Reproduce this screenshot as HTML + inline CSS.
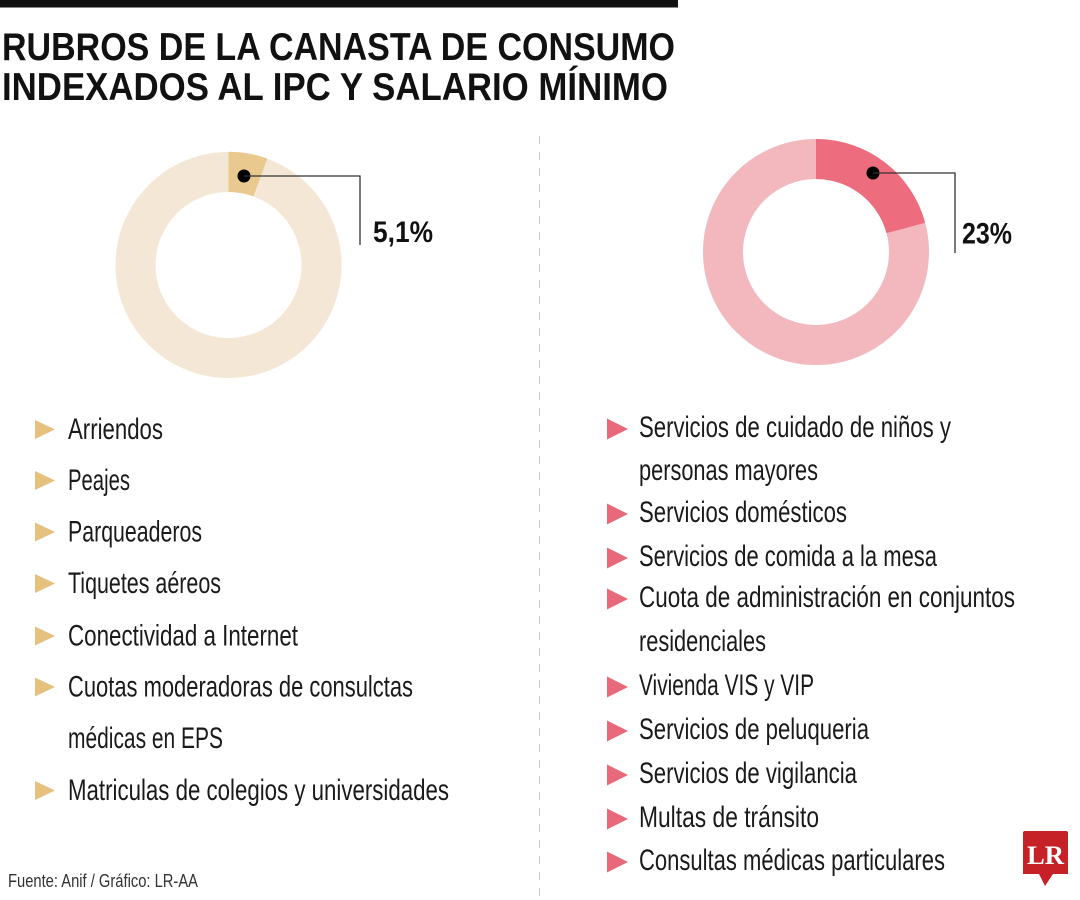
<!DOCTYPE html>
<html>
<head>
<meta charset="utf-8">
<style>
  html, body { margin: 0; padding: 0; background: #fff; }
  body { width: 1080px; height: 900px; overflow: hidden; }
  svg { display: block; }
  .t { font-family: "Liberation Sans Narrow", "Liberation Sans", sans-serif; }
</style>
</head>
<body>
<svg width="1080" height="900" viewBox="0 0 1080 900" xmlns="http://www.w3.org/2000/svg">
  <rect x="0" y="0" width="1080" height="900" fill="#ffffff"/>
  <!-- top bar -->
  <rect x="0" y="0" width="678" height="7.5" fill="#111"/>

  <!-- title -->
  <text class="t" x="2" y="60" font-size="39" font-weight="700" fill="#111" textLength="673" lengthAdjust="spacingAndGlyphs">RUBROS DE LA CANASTA DE CONSUMO</text>
  <text class="t" x="2" y="100" font-size="39" font-weight="700" fill="#111" textLength="666" lengthAdjust="spacingAndGlyphs">INDEXADOS AL IPC Y SALARIO MÍNIMO</text>

  <!-- divider -->
  <line x1="539.5" y1="136" x2="539.5" y2="900" stroke="#c8c8c8" stroke-width="1" stroke-dasharray="8 8"/>

  <!-- donut 1 -->
  <circle cx="228.5" cy="265" r="93" fill="none" stroke="#f4e7d5" stroke-width="40"/>
  <path d="M228.5 151.7 A113.3 113.3 0 0 1 267.25 158.53 L253.47 196.4 A73 73 0 0 0 228.5 192 Z" fill="#e9c98e"/>
  <circle cx="244" cy="176" r="6.5" fill="#000"/>
  <polyline points="244,176 360,176 360,245" fill="none" stroke="#333" stroke-width="1.3"/>
  <text class="t" x="373" y="242" font-size="30" font-weight="700" fill="#111" textLength="60" lengthAdjust="spacingAndGlyphs">5,1%</text>

  <!-- donut 2 -->
  <circle cx="816" cy="252" r="93" fill="none" stroke="#f2b8bd" stroke-width="40"/>
  <path d="M816 139 A113 113 0 0 1 925.15 222.75 L886.51 233.11 A73 73 0 0 0 816 179 Z" fill="#ed6c7e"/>
  <circle cx="873" cy="173" r="6.5" fill="#000"/>
  <polyline points="873,173 955,173 955,253" fill="none" stroke="#333" stroke-width="1.3"/>
  <text class="t" x="962" y="243.5" font-size="30" font-weight="700" fill="#111" textLength="50" lengthAdjust="spacingAndGlyphs">23%</text>

  <!-- left list -->
  <g fill="#e6c07d">
    <polygon points="35,420 55,429.5 35,439"/>
    <polygon points="35,471 55,480.5 35,490"/>
    <polygon points="35,522.5 55,532 35,541.5"/>
    <polygon points="35,574 55,583.5 35,593"/>
    <polygon points="35,626.5 55,636 35,645.5"/>
    <polygon points="35,677.5 55,687 35,696.5"/>
    <polygon points="35,781 55,790.5 35,800"/>
  </g>
  <g class="t" font-size="30" fill="#1a1a1a">
    <text x="68" y="439" textLength="95" lengthAdjust="spacingAndGlyphs">Arriendos</text>
    <text x="68" y="490" textLength="62" lengthAdjust="spacingAndGlyphs">Peajes</text>
    <text x="68" y="541.5" textLength="134" lengthAdjust="spacingAndGlyphs">Parqueaderos</text>
    <text x="68" y="593" textLength="153" lengthAdjust="spacingAndGlyphs">Tiquetes aéreos</text>
    <text x="68" y="645.5" textLength="230" lengthAdjust="spacingAndGlyphs">Conectividad a Internet</text>
    <text x="68" y="696.5" textLength="345" lengthAdjust="spacingAndGlyphs">Cuotas moderadoras de consulctas</text>
    <text x="68" y="748" textLength="155" lengthAdjust="spacingAndGlyphs">médicas en EPS</text>
    <text x="68" y="800" textLength="381" lengthAdjust="spacingAndGlyphs">Matriculas de colegios y universidades</text>
  </g>

  <!-- right list -->
  <g fill="#e8697a">
    <polygon points="607,418.5 628,429 607,439.5"/>
    <polygon points="607,503.5 628,514 607,524.5"/>
    <polygon points="607,547.5 628,558 607,568.5"/>
    <polygon points="607,588.5 628,599 607,609.5"/>
    <polygon points="607,676.5 628,687 607,697.5"/>
    <polygon points="607,720.5 628,731 607,741.5"/>
    <polygon points="607,764.5 628,775 607,785.5"/>
    <polygon points="607,808.5 628,819 607,829.5"/>
    <polygon points="607,851.5 628,862 607,872.5"/>
  </g>
  <g class="t" font-size="30" fill="#1a1a1a">
    <text x="639" y="437" textLength="312" lengthAdjust="spacingAndGlyphs">Servicios de cuidado de niños y</text>
    <text x="639" y="480" textLength="179" lengthAdjust="spacingAndGlyphs">personas mayores</text>
    <text x="639" y="522" textLength="208" lengthAdjust="spacingAndGlyphs">Servicios domésticos</text>
    <text x="639" y="566" textLength="298" lengthAdjust="spacingAndGlyphs">Servicios de comida a la mesa</text>
    <text x="639" y="607" textLength="376" lengthAdjust="spacingAndGlyphs">Cuota de administración en conjuntos</text>
    <text x="639" y="651" textLength="127" lengthAdjust="spacingAndGlyphs">residenciales</text>
    <text x="639" y="695" textLength="175" lengthAdjust="spacingAndGlyphs">Vivienda VIS y VIP</text>
    <text x="639" y="739" textLength="230" lengthAdjust="spacingAndGlyphs">Servicios de peluqueria</text>
    <text x="639" y="783" textLength="218" lengthAdjust="spacingAndGlyphs">Servicios de vigilancia</text>
    <text x="639" y="827" textLength="180" lengthAdjust="spacingAndGlyphs">Multas de tránsito</text>
    <text x="639" y="870" textLength="306" lengthAdjust="spacingAndGlyphs">Consultas médicas particulares</text>
  </g>

  <!-- footer -->
  <text class="t" x="8" y="887" font-size="18.5" fill="#333" textLength="190" lengthAdjust="spacingAndGlyphs">Fuente: Anif / Gráfico: LR-AA</text>

  <!-- LR logo -->
  <path d="M1025 831 H1066 Q1068 831 1068 833 V874 H1053 L1045 886 L1039 874 H1023 V833 Q1023 831 1025 831 Z" fill="#c62127"/>
  <text x="1045.5" y="864" font-family="Liberation Serif, serif" font-size="26" font-weight="700" fill="#fff" text-anchor="middle" textLength="37" lengthAdjust="spacingAndGlyphs">LR</text>
</svg>
</body>
</html>
